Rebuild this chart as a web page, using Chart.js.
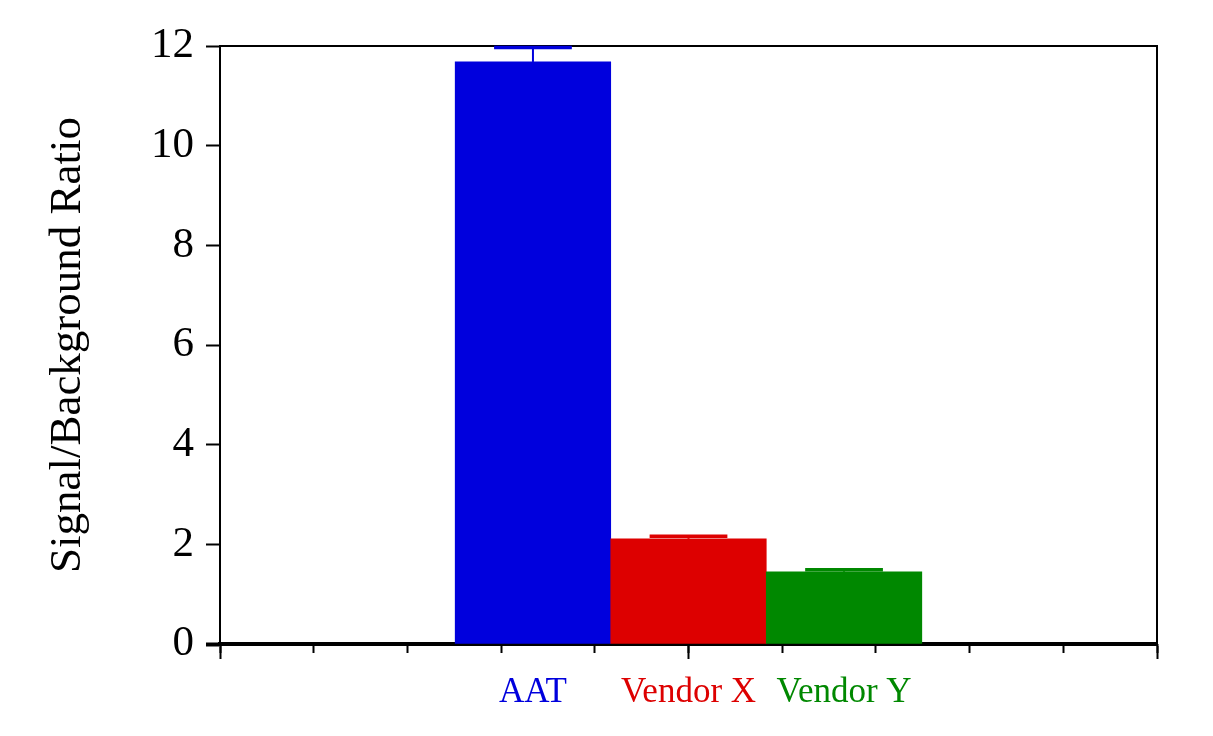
<!DOCTYPE html>
<html>
<head>
<meta charset="utf-8">
<script src="https://cdn.jsdelivr.net/npm/chart.js@4.4.1/dist/chart.umd.min.js"></script>
<style>
  html, body { margin: 0; padding: 0; background: #fff; }
  canvas { display: block; }
</style>
</head>
<body>
<canvas id="ratioChart" width="1213" height="736"></canvas>
<script>
// values
const categories = ['AAT', 'Vendor X', 'Vendor Y']
const xPos = [3.34, 5, 6.66]
const ratios = [11.68, 2.11, 1.45]
const errors = [0.29, 0.05, 0.04]
const barColors = ['#0000dd', '#dd0000', '#008800']

const yTicks = [0, 2, 4, 6, 8, 10, 12]

const serif = 'Liberation Serif, Times New Roman, serif'

// error bars on top of each bar (only the upper whisker shows)
const errorBars = {
  id: 'errorBars',
  afterDatasetsDraw(chart) {
    const ctx = chart.ctx
    const yScale = chart.scales.y
    const meta = chart.getDatasetMeta(0)
    meta.data.forEach((bar, i) => {
      const top = yScale.getPixelForValue(ratios[i] + errors[i])
      const half = bar.width / 4
      ctx.save()
      ctx.strokeStyle = barColors[i]
      ctx.lineWidth = 2
      ctx.beginPath()
      ctx.moveTo(bar.x, bar.y)
      ctx.lineTo(bar.x, top)
      ctx.stroke()
      ctx.lineWidth = 3.5
      ctx.beginPath()
      ctx.moveTo(bar.x - half, top)
      ctx.lineTo(bar.x + half, top)
      ctx.stroke()
      ctx.restore()
    })
  }
}

const zeroHeight = (axis) => { axis.height = 0 }
const zeroWidth = (axis) => { axis.width = 0 }

new Chart(document.getElementById('ratioChart').getContext('2d'), {
  type: 'bar',
  data: {
    datasets: [{
      xAxisID: 'xLabels',
      data: xPos.map((x, i) => ({ x: x, y: ratios[i] })),
      backgroundColor: barColors,
      borderWidth: 0,
      barPercentage: 1,
      categoryPercentage: 1,
    }]
  },
  options: {
    responsive: false,
    animation: false,
    layout: { padding: { top: 46, right: 56, bottom: 0, left: 0 } },
    plugins: {
      legend: { display: false },
      tooltip: { enabled: false },
    },
    scales: {
      x: {
        type: 'linear',
        position: 'bottom',
        min: 0,
        max: 10,
        offset: false,
        weight: 0,
        ticks: { display: false, stepSize: 1 },
        grid: { offset: false, drawOnChartArea: false, drawTicks: true, tickLength: 9, color: '#000', tickWidth: 2 },
        border: { display: true, color: '#000', width: 4 },
        afterFit: zeroHeight,
      },
      xMajor: {
        type: 'linear',
        position: 'bottom',
        min: 0,
        max: 10,
        offset: false,
        weight: 1,
        ticks: { display: false, stepSize: 5 },
        grid: { offset: false, drawOnChartArea: false, drawTicks: true, tickLength: 15, color: '#000', tickWidth: 2 },
        border: { display: false },
        afterFit: zeroHeight,
      },
      xLabels: {
        type: 'linear',
        position: 'bottom',
        min: 0,
        max: 10,
        offset: false,
        weight: 2,
        afterBuildTicks: (axis) => { axis.ticks = xPos.map(v => ({ value: v })) },
        ticks: {
          autoSkip: false,
          maxRotation: 0,
          padding: 20,
          font: { family: serif, size: 35 },
          color: (c) => barColors[c.index],
          callback: (v, i) => categories[i],
        },
        grid: { display: false, offset: false },
        border: { display: false },
        afterFit: (axis) => { axis.height = 92 },
      },
      xTop: {
        type: 'linear',
        position: 'top',
        min: 0,
        max: 10,
        offset: false,
        ticks: { display: false },
        grid: { display: false, offset: false },
        border: { display: true, color: '#000', width: 2 },
        afterFit: zeroHeight,
      },
      y: {
        min: 0,
        max: 12,
        afterBuildTicks: (axis) => { axis.ticks = yTicks.map(v => ({ value: v })) },
        ticks: {
          padding: 12,
          color: '#000',
          font: { family: serif, size: 43 },
        },
        grid: {
          drawOnChartArea: false,
          drawTicks: true,
          tickLength: 14,
          color: '#000',
          tickWidth: (c) => c.tick && c.tick.value === 0 ? 4 : 2,
        },
        border: { display: true, color: '#000', width: 2 },
        title: {
          display: true,
          text: 'Signal/Background Ratio',
          color: '#000',
          font: { family: serif, size: 45 },
          padding: { top: 41, bottom: 0 },
        },
        afterFit: (axis) => { axis.width = 220 },
      },
      yRight: {
        position: 'right',
        min: 0,
        max: 12,
        ticks: { display: false },
        grid: { display: false },
        border: { display: true, color: '#000', width: 2 },
        afterFit: zeroWidth,
      },
    },
  },
  plugins: [errorBars],
})
</script>
</body>
</html>
